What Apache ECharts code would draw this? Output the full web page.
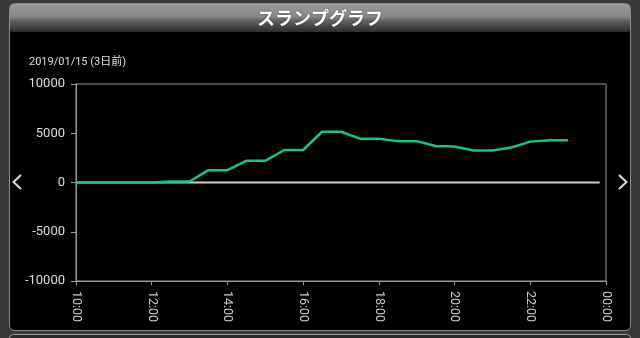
<!DOCTYPE html>
<html>
<head>
<meta charset="utf-8">
<script src="https://cdn.jsdelivr.net/npm/echarts@6/dist/echarts.min.js"></script>
<style>
html,body{margin:0;padding:0;background:#3a3a3a;}
#c{width:640px;height:338px;}
</style>
</head>
<body>
<div id="c"></div>
<script>
// minutes since 10:00
const times = [0,30,60,90,120,150,180,210,240,270,300,330,360,390,420,450,480,510,540,570,600,630,660,690,720,750,780];
const values = [0,0,0,0,0,100,100,1250,1250,2200,2200,3300,3300,5150,5150,4450,4450,4200,4200,3700,3650,3250,3250,3550,4150,4300,4300];
const zeroTimes = [0,830];
const zeroValues = [0,0];
const yTicks = [-10000,-5000,0,5000,10000];
const xTickLabels = ['10:00','12:00','14:00','16:00','18:00','20:00','22:00','00:00'];
const title = 'スランプグラフ';
const dateText = '2019/01/15 (3日前)';

const chart = echarts.init(document.getElementById('c'), null, {renderer:'canvas'});
const lineData = times.map((t,i)=>[t, values[i]]);
const zeroData = zeroTimes.map((t,i)=>[t, zeroValues[i]]);
const font = 'Roboto, "Noto Sans CJK JP", sans-serif';

chart.setOption({
  backgroundColor: '#3a3a3a',
  animation: false,
  graphic: [
    {type:'rect', shape:{x:9.5,y:3.5,width:621,height:327,r:5}, style:{fill:'#000',stroke:'#8a8a8a',lineWidth:1}, z:-10},
    {type:'rect', shape:{x:10,y:4,width:620,height:28,r:[4,4,3,3]},
      style:{fill:new echarts.graphic.LinearGradient(0,0,0,1,[
        {offset:0,color:'#9a9a9a'},{offset:0.45,color:'#888'},{offset:0.6,color:'#606060'},{offset:1,color:'#2c2c2c'}])}, z:-9},
    {type:'text', x:320, y:18, style:{text:title, fill:'#fff', font:'bold 18px "Noto Sans CJK JP", sans-serif', textAlign:'center', textVerticalAlign:'middle', textShadowColor:'rgba(0,0,0,0.5)', textShadowBlur:2}},
    {type:'text', x:29, y:62, style:{text:dateText, fill:'#ddd', font:'11px Roboto, "Noto Sans CJK JP", sans-serif', textVerticalAlign:'middle'}},
    {type:'polyline', shape:{points:[[21,175],[13.5,182],[21,189]]}, style:{stroke:'#ddd',lineWidth:2,fill:null}},
    {type:'polyline', shape:{points:[[619,175],[626.5,182],[619,189]]}, style:{stroke:'#ddd',lineWidth:2,fill:null}},
    {type:'rect', shape:{x:9.5,y:334.5,width:621,height:20,r:4}, style:{fill:'#2a2a2a',stroke:'#999',lineWidth:1}, z:-10}
  ],
  grid: {left:76, right:34, top:84, bottom:57, show:true, borderColor:'#999', borderWidth:1, backgroundColor:'transparent'},
  xAxis: {
    type:'value', min:0, max:840, interval:120,
    axisLine:{show:true, onZero:false, lineStyle:{color:'#999', width:1}},
    axisTick:{show:true, length:4, lineStyle:{color:'#999'}},
    axisLabel:{rotate:-90, margin:10, color:'#ccc', fontSize:12.5, fontFamily:font,
      formatter:(v)=>xTickLabels[Math.round(v/120)]},
    splitLine:{show:false}
  },
  yAxis: {
    type:'value', min:yTicks[0], max:yTicks[yTicks.length-1], interval:5000,
    axisLine:{show:true, lineStyle:{color:'#999', width:1}},
    axisTick:{show:true, length:5, lineStyle:{color:'#999'}},
    axisLabel:{margin:11, color:'#ddd', fontSize:13, fontFamily:font, formatter:(v)=>String(v)},
    splitLine:{show:false}
  },
  series: [
    {type:'line', data:zeroData, symbol:'none', lineStyle:{color:'#cfcfcf', width:2}, z:2, silent:true},
    {type:'line', data:lineData, symbol:'none', lineStyle:{color:'#0fc87c', width:2.5}, z:3, silent:true}
  ]
});
</script>
</body>
</html>
